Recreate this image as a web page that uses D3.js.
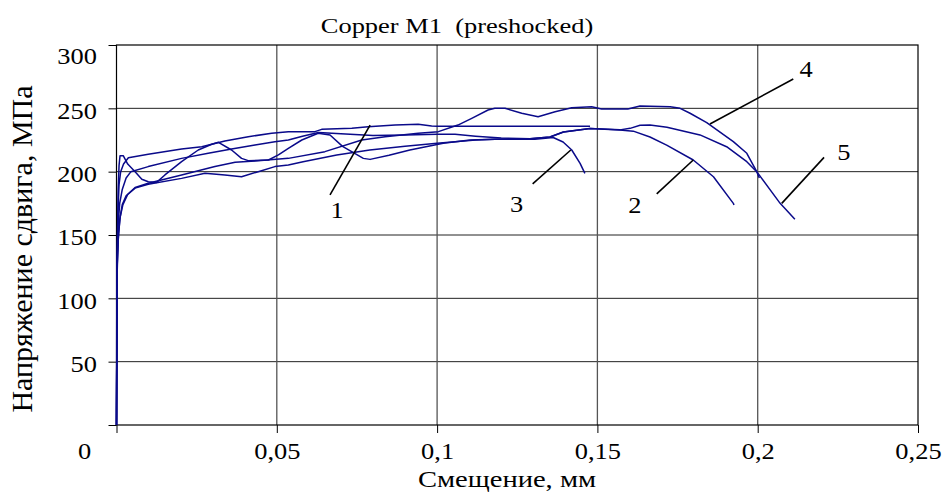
<!DOCTYPE html>
<html>
<head>
<meta charset="utf-8">
<script src="https://cdn.jsdelivr.net/npm/d3@7/dist/d3.min.js"></script>
<style>
    body { margin: 0; background: #fff; }
    text { font-family: "Liberation Serif", "Times New Roman", serif; fill: #000; }
</style>
</head>
<body>
<svg width="944" height="494"></svg>
<script>
// оси
const xTicks = [0, 0.05, 0.1, 0.15, 0.2, 0.25];
const xTickLabels = ["0", "0,05", "0,1", "0,15", "0,2", "0,25"];
const yTicks = [0, 50, 100, 150, 200, 250, 300];
const yTickLabels = ["", "50", "100", "150", "200", "250", "300"];

// кривые: [смещение, мм ; напряжение, МПа]
const curve1 = [[0,0],[0.0001,110],[0.0004,165],[0.0008,190],[0.0013,200],[0.0022,206],[0.0037,211],
    [0.0099,213.7],[0.0203,217.9],[0.0266,219.7],[0.0338,224.2],[0.0411,227.6],[0.0484,230.3],[0.0536,231.6],
    [0.0619,231.6],[0.064,233.4],[0.0734,234.2],[0.0785,235.5],[0.0869,236.8],[0.0941,237.4],[0.0983,236],
    [0.1,235.8],[0.1477,235.8]];

const curve2 = [[0,0],[0.0002,125],[0.0006,150],[0.0012,165],[0.002,174],[0.0035,182],[0.0058,187],[0.0099,190],
    [0.0203,194.7],[0.0276,198.7],[0.0338,197.4],[0.039,196],[0.0442,200],[0.0494,204],[0.0536,205.3],
    [0.0582,207.9],[0.0687,213.2],[0.079,217.1],[0.09,220],[0.1,222.5],[0.1056,223.7],[0.112,225],[0.118,225.5],
    [0.129,226],[0.1352,227.4],[0.1394,231.3],[0.1477,234],[0.157,232.9],[0.1612,232],[0.1664,227.4],
    [0.1716,221],[0.1799,209.2],[0.1862,196],[0.1924,175],[0.1926,173.7]];

const curve3 = [[0,0],[0.0002,120],[0.0005,185],[0.0008,205],[0.0011,212.6],[0.0021,212.6],[0.0035,206],
    [0.0058,200],[0.0079,194],[0.0099,192],[0.0125,191.5],[0.0151,197.4],[0.0203,207.9],[0.0255,217.1],
    [0.0297,221.6],[0.0318,223.2],[0.0359,217.1],[0.039,210.5],[0.0411,208.7],[0.0474,209.2],[0.0505,213.2],
    [0.0536,218.4],[0.0578,225],[0.0629,230.3],[0.0666,229],[0.0705,220],[0.077,210.5],[0.0791,209.7],
    [0.085,213],[0.0915,217.1],[0.1019,222.4],[0.1103,225],[0.118,225.5],[0.1305,225.5],[0.1362,227],
    [0.1393,223.4],[0.142,217.1],[0.1446,206.6],[0.1461,198.7]];

const curve4 = [[0,0],[0.0002,120],[0.0005,145],[0.001,162],[0.0018,174],[0.003,181],[0.0058,187.5],[0.0099,190.8],
    [0.0203,197.4],[0.0307,204],[0.037,207.4],[0.0432,208.4],[0.0536,210.5],[0.065,215.8],[0.0765,225],
    [0.0838,227.6],[0.0941,230.3],[0.1004,231.6],[0.1065,236.8],[0.1108,242.1],[0.1159,248.7],[0.118,250],
    [0.1212,250],[0.1264,246.1],[0.1315,243.4],[0.1368,247.3],[0.142,250.5],[0.1482,251.3],[0.1513,249.5],
    [0.1595,249.5],[0.1633,251.8],[0.1727,251.3],[0.1758,250],[0.1789,246.1],[0.1841,238.7],[0.1924,223.7],
    [0.1966,214.5],[0.1997,200],[0.2005,195]];

const curve5 = [[0,0],[0.0002,130],[0.0005,158],[0.001,175],[0.0018,186],[0.003,195],[0.0045,200],[0.0099,204],
    [0.0203,210.5],[0.0286,214.5],[0.0359,217.9],[0.0432,221],[0.0494,223.7],[0.0536,225],[0.058,228],
    [0.063,231],[0.07,230],[0.08,228.5],[0.09,229],[0.1,229.5],[0.1056,229.5],[0.112,228],[0.12,226.5],
    [0.129,226],[0.1352,227.4],[0.1394,231.3],[0.1477,234],[0.157,233],[0.1602,234.2],[0.1633,236.6],
    [0.1664,236.8],[0.1717,235],[0.182,229],[0.1903,219.7],[0.1966,207.9],[0.1997,200],[0.207,175],
    [0.2116,162.4]];

const curves = [curve1, curve2, curve3, curve4, curve5];

// подписи кривых: номер, точка текста, начало и конец выноски
const labelNames = ["1", "3", "2", "4", "5"];
const labelPos = [[0.0688, 163.4], [0.1248, 168.2], [0.1617, 167.4], [0.2151, 274.7], [0.2269, 209.2]];
const leaders = [
    [[0.0666, 181.6], [0.0791, 236.8]],
    [[0.1298, 190.3], [0.1417, 217.1]],
    [[0.1685, 182.4], [0.1799, 209.2]],
    [[0.2111, 273.2], [0.1851, 237.6]],
    [[0.2207, 211.3], [0.2075, 175]]
];

const svg = d3.select("svg");
const sx = 1.15; // текст в оригинале немного растянут по горизонтали

const x = d3.scaleLinear().domain([0, 0.25]).range([116.5, 918]);
const y = d3.scaleLinear().domain([0, 300]).range([425, 45]);

// сетка
svg.append("g").selectAll("line")
    .data(yTicks.slice(1, -1))
    .join("line")
    .attr("x1", x(0)).attr("x2", x(0.25))
    .attr("y1", d => y(d)).attr("y2", d => y(d))
    .attr("stroke", "#222").attr("stroke-width", 1);

svg.append("g").selectAll("line")
    .data(xTicks.slice(1, -1))
    .join("line")
    .attr("x1", d => x(d)).attr("x2", d => x(d))
    .attr("y1", y(0)).attr("y2", y(300))
    .attr("stroke", "#555").attr("stroke-width", 1.3);

// рамка
svg.append("rect")
    .attr("x", x(0)).attr("y", y(300))
    .attr("width", x(0.25) - x(0)).attr("height", y(0) - y(300))
    .attr("fill", "none").attr("stroke", "#000").attr("stroke-width", 1.2);

// ось Y
const yAxis = svg.append("g")
    .attr("transform", `translate(${x(0)},0)`)
    .call(d3.axisLeft(y).tickValues(yTicks).tickSize(8)
        .tickFormat((d, i) => yTickLabels[i]));
yAxis.select(".domain").remove();
yAxis.selectAll("line").attr("stroke", "#000");
yAxis.selectAll("text")
    .attr("font-size", 23)
    .attr("x", -19.5 / sx)
    .attr("dy", d => d === 300 ? "0.8em" : "0.43em")
    .attr("transform", `scale(${sx},1)`);

// ось X
const xAxis = svg.append("g")
    .attr("transform", `translate(0,${y(0)})`)
    .call(d3.axisBottom(x).tickValues(xTicks).tickSize(8)
        .tickFormat((d, i) => xTickLabels[i]));
xAxis.select(".domain").remove();
xAxis.selectAll("line").attr("stroke", "#000");
xAxis.selectAll("text")
    .attr("font-size", 23)
    .attr("y", 34).attr("dy", 0)
    .attr("x", d => d === 0 ? -32.5 / sx : 0)
    .attr("transform", `scale(${sx},1)`);

// кривые
const line = d3.line()
    .x(d => x(d[0]))
    .y(d => y(d[1]));

svg.append("g").selectAll("path")
    .data(curves)
    .join("path")
    .attr("d", line)
    .attr("fill", "none")
    .attr("stroke", "#0a0a8a")
    .attr("stroke-width", 1.5)
    .attr("stroke-linejoin", "round");

// выноски
svg.append("g").selectAll("line")
    .data(leaders)
    .join("line")
    .attr("x1", d => x(d[0][0])).attr("y1", d => y(d[0][1]))
    .attr("x2", d => x(d[1][0])).attr("y2", d => y(d[1][1]))
    .attr("stroke", "#000").attr("stroke-width", 1.6);

svg.append("g").selectAll("text")
    .data(labelNames)
    .join("text")
    .attr("transform", (d, i) => `translate(${x(labelPos[i][0])},${y(labelPos[i][1])}) scale(${sx},1)`)
    .attr("text-anchor", "middle")
    .attr("font-size", 23)
    .text(d => d);

// заголовки
svg.append("text")
    .attr("transform", "translate(457,33) scale(1.26,1)")
    .attr("text-anchor", "middle")
    .attr("font-size", 21)
    .attr("xml:space", "preserve")
    .style("white-space", "pre")
    .text("Copper M1  (preshocked)");

svg.append("text")
    .attr("transform", "translate(507,487) scale(1.19,1)")
    .attr("text-anchor", "middle")
    .attr("font-size", 24)
    .text("Смещение, мм");

svg.append("text")
    .attr("transform", "translate(32,249) rotate(-90)")
    .attr("text-anchor", "middle")
    .attr("font-size", 30)
    .text("Напряжение сдвига, МПа");
</script>
</body>
</html>
